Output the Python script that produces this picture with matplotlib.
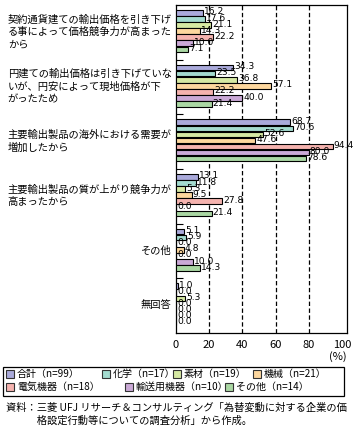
import matplotlib
matplotlib.use('Agg')
import matplotlib.pyplot as plt
from matplotlib.patches import Rectangle
import numpy as np

plt.rcParams['font.family'] = ['Noto Sans CJK JP', 'DejaVu Sans']

# data
categories = [
    '契約通貨建ての輸出価格を引き下げ\nる事によって価格競争力が高まった\nから',
    '円建ての輸出価格は引き下げていな\nいが、円安によって現地価格が下\nがったため',
    '主要輸出製品の海外における需要が\n増加したから',
    '主要輸出製品の質が上がり競争力が\n高まったから',
    'その他',
    '無回答',
]
series_names = ['合計（n=99）', '化学（n=17）', '素材（n=19）', '機械（n=21）',
                '電気機器（n=18）', '輸送用機器（n=10）', 'その他（n=14）']
total = [16.2, 34.3, 68.7, 13.1, 5.1, 1.0]
chemical = [17.6, 23.5, 70.6, 11.8, 5.9, 0.0]
materials = [21.1, 36.8, 52.6, 5.3, 0.0, 5.3]
machinery = [14.3, 57.1, 47.6, 9.5, 4.8, 0.0]
electric = [22.2, 22.2, 94.4, 27.8, 0.0, 0.0]
transport = [10.0, 40.0, 80.0, 0.0, 10.0, 0.0]
other = [7.1, 21.4, 78.6, 21.4, 14.3, 0.0]
series = [total, chemical, materials, machinery, electric, transport, other]
xticks = [0, 20, 40, 60, 80, 100]
source = ('資料：三菱 UFJ リサーチ＆コンサルティング「為替変動に対する企業の価\n'
          '　　　格設定行動等についての調査分析」から作成。')

colors = ['#aaaadb', '#a3dbcf', '#d6e9a3', '#fdd79e', '#f5b3af', '#caa9d6', '#aad7a3']

fig = plt.figure(figsize=(3.6, 4.36), dpi=100)
ax = fig.add_axes([176 / 360, 1 - 333 / 436, 171 / 360, 328 / 436])

slot = 9  # 7 bars + 2 gap slots per group
for j, (vals, c) in enumerate(zip(series, colors)):
    ys = np.arange(len(categories)) * slot + 1.3 + j
    ax.barh(ys, vals, height=0.92, color=c, edgecolor='black', linewidth=0.8, zorder=3)
    for y, v in zip(ys, vals):
        ax.text(v + 0.6, y - 0.15, '{:.1f}'.format(v), fontsize=6.6, va='center',
                ha='left', zorder=5,
                family=['Liberation Sans Narrow', 'DejaVu Sans'])

for g in [20, 40, 60, 80]:
    ax.axvline(g, color='black', linewidth=0.9, linestyle=(0, (3.5, 2)), zorder=1)

ax.set_xlim(0, 103)
ax.set_ylim(len(categories) * slot, 0)
ax.set_xticks(xticks)
ax.set_xticklabels([str(t) for t in xticks], fontsize=8)
ax.tick_params(axis='x', length=0, pad=5)
ax.set_yticks(np.arange(1, len(categories)) * slot)
ax.set_yticklabels([])
ax.tick_params(axis='y', direction='in', length=5, width=0.8)
for s in ax.spines.values():
    s.set_linewidth(0.9)

for i, cat in enumerate(categories):
    ax.text(-0.025, i * slot + 4.4, cat, transform=ax.get_yaxis_transform(),
            ha='right', va='center', multialignment='left', fontsize=7.4,
            linespacing=1.3)

fig.text(347 / 360, 1 - 357 / 436, '(%)', ha='right', va='center', fontsize=8)

# legend box
fig.patches.append(Rectangle((3 / 360, 1 - 396 / 436), 341 / 360, 29 / 436,
                             transform=fig.transFigure, facecolor='none',
                             edgecolor='black', linewidth=0.9))
leg_pos = [(6, 374), (102, 374), (173, 374), (253, 374),
           (6, 387), (125, 387), (225, 387)]
for (px, py), name, c in zip(leg_pos, series_names, colors):
    fig.patches.append(Rectangle((px / 360, 1 - (py + 4) / 436), 8 / 360, 8 / 436,
                                 transform=fig.transFigure, facecolor=c,
                                 edgecolor='#333333', linewidth=0.8))
    fig.text((px + 11) / 360, 1 - py / 436, name, ha='left', va='center', fontsize=7.2)

fig.text(6 / 360, 1 - 403 / 436, source, ha='left', va='top', fontsize=7.4,
         linespacing=1.25)

fig.savefig('out.png', dpi=100)
